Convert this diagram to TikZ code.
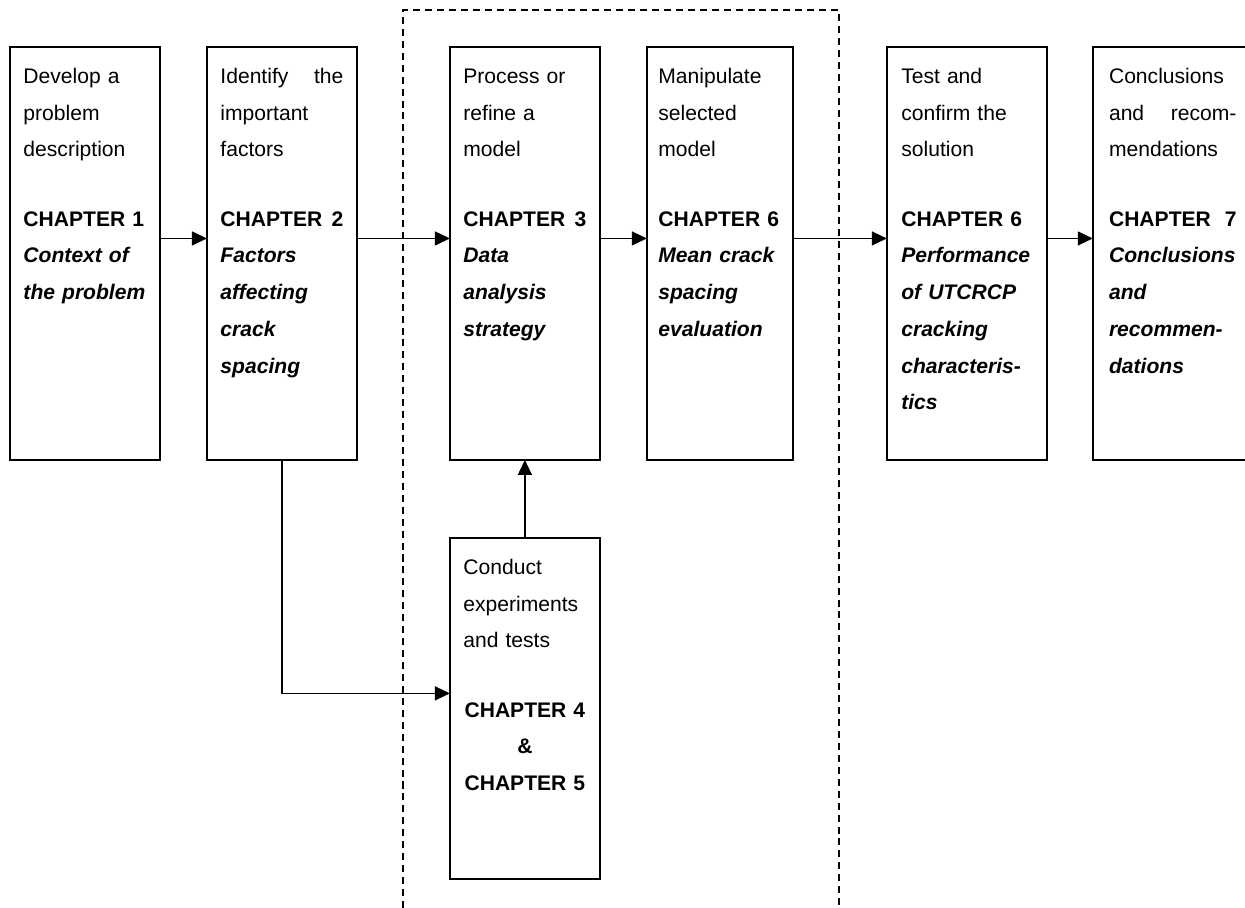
\documentclass[tikz,border=0pt]{standalone}
\usepackage{fontspec}
\setmainfont{Liberation Sans}
\usetikzlibrary{arrows.meta,positioning}
\newcommand{\chap}[1]{\textbf{#1}}
\newcommand{\topic}[1]{\textbf{\textit{#1}}}
\newcommand{\gap}{\\[0.65cm]}
\newcommand{\midline}[1]{\hfill#1\hfill\null}
\tikzset{%
  >={Triangle[width=2.8mm,length=3mm]},
  % Boxes for the steps of the thesis
       chapbox/.style = {rectangle, draw=black, line width=1.1pt,
                         minimum width=3cm, text width=2.46cm,
                         inner xsep=0.27cm, inner ysep=0pt, outer sep=0pt,
                         text height=0.73cm, text depth=7.53cm,
                         align=left, font=\fontsize{12pt}{20.9pt}\selectfont},
       widebox/.style = {chapbox, minimum width=3.2cm, text width=2.62cm},
      shortbox/.style = {chapbox, text depth=6.09cm},
         frame/.style = {line width=1.1pt, dash pattern=on 4pt off 2.8pt},
          link/.style = {->, line width=0.75pt},
}

\begin{document}
\begin{tikzpicture}[x=0.02cm, y=-0.02cm]
  \useasboundingbox (0,0) rectangle (1245,908);
  % Top row of steps

  \node (c1)	[chapbox, anchor=north west] at (10,47) {Develop a\\ problem\\ description\gap
        \chap{CHAPTER 1}\\ \topic{Context of}\\ \topic{the problem}};
  \node (c2)	[chapbox, right=0.94cm of c1] {Identify \hfill the\\ important\\ factors\gap
        \chap{CHAPTER \hfill 2}\\ \topic{Factors}\\ \topic{affecting}\\ \topic{crack}\\ \topic{spacing}};
  \node (c3)	[chapbox, right=1.86cm of c2] {Process or\\ refine a\\ model\gap
        \chap{CHAPTER \hfill 3}\\ \topic{Data}\\ \topic{analysis}\\ \topic{strategy}};
  \node (c4)	[chapbox, minimum width=2.92cm, inner xsep=0.23cm, right=0.94cm of c3] {Manipulate\\ selected\\ model\gap
        \chap{CHAPTER 6}\\ \topic{Mean crack}\\ \topic{spacing}\\ \topic{evaluation}};
  \node (c5)	[widebox, right=1.88cm of c4] {Test and\\ confirm the\\ solution\gap
        \chap{CHAPTER 6}\\ \topic{Performance}\\ \topic{of UTCRCP}\\ \topic{cracking}\\ \topic{characteris-}\\ \topic{tics}};
  \node (c6)	[widebox, text width=2.55cm, right=0.92cm of c5] {Conclusions\\ and \hfill recom-\\ mendations\gap
        \chap{CHAPTER \hfill 7}\\ \topic{Conclusions}\\ \topic{and}\\ \topic{recommen-}\\ \topic{dations}};

  % Experiments below the model step
  \node (c7)	[shortbox, below=1.56cm of c3] {Conduct\\ experiments\\ and tests\gap
        \midline{\chap{CHAPTER 4}}\\ \midline{\chap{\&}}\\ \midline{\chap{CHAPTER 5}}};

  % Dashed frame round the modelling part (open at the bottom)
  \draw[frame]	(403,908) -- (403,10) -- (839,10) -- (839,908);

  \draw[link]	([yshift=0.3cm]c1.east) -- ([yshift=0.3cm]c2.west);
  \draw[link]	([yshift=0.3cm]c2.east) -- ([yshift=0.3cm]c3.west);
  \draw[link]	([yshift=0.3cm]c3.east) -- ([yshift=0.3cm]c4.west);
  \draw[link]	([yshift=0.3cm]c4.east) -- ([yshift=0.3cm]c5.west);
  \draw[link]	([yshift=0.3cm]c5.east) -- ([yshift=0.3cm]c6.west);
  \draw[link]	(c2.south) |- ([yshift=0.3cm]c7.west);
  \draw[link]	(c7.north) -- (c3.south);

\end{tikzpicture}
\end{document}
